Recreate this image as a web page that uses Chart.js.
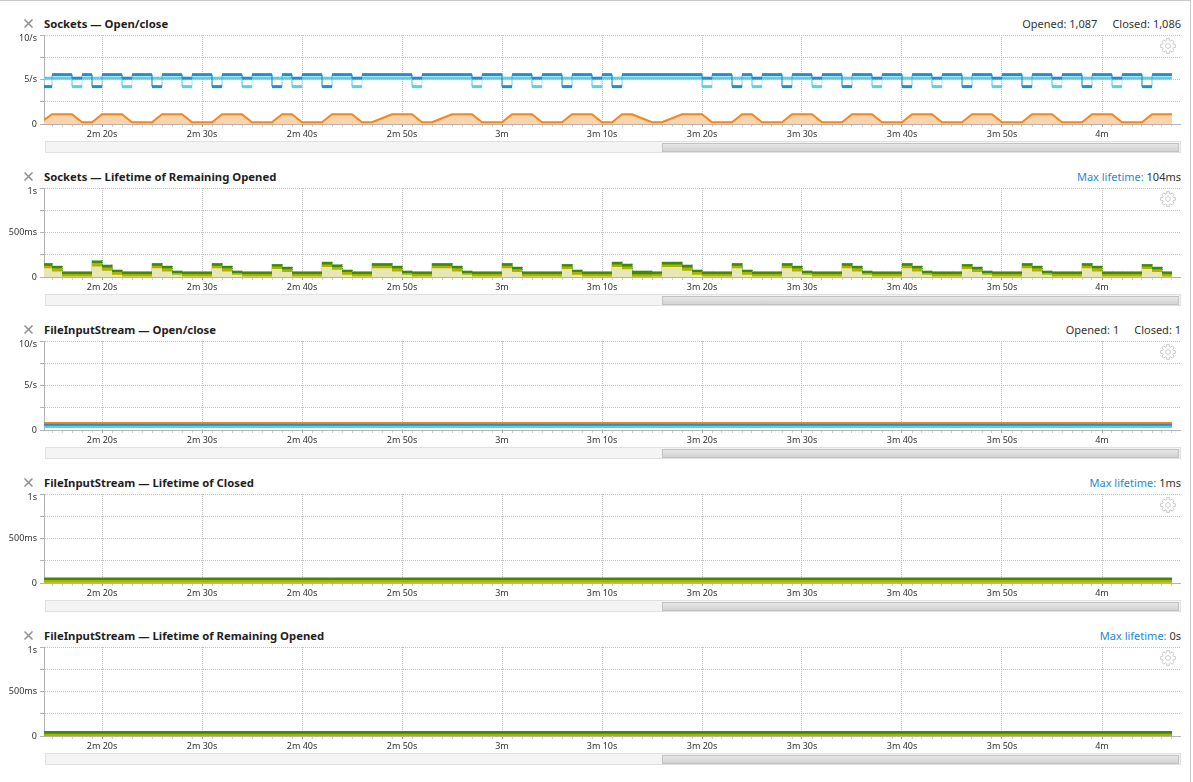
<!DOCTYPE html>
<html><head><meta charset="utf-8">
<script src="https://cdn.jsdelivr.net/npm/chart.js@4.4.0/dist/chart.umd.min.js"></script>
<style>
html,body{margin:0;padding:0;background:#fff;}
body{width:1193px;height:782px;position:relative;overflow:hidden;font-family:"Noto Sans",sans-serif;}
#frame{position:absolute;left:0;top:0;width:1191px;height:782px;border-top:1px solid #c9c9c9;border-right:1px solid #c9c9c9;box-sizing:border-box;}
.panel{position:absolute;left:0;width:1193px;height:153px;}
.close{position:absolute;left:24px;top:19px;width:9px;height:9px;}
.title{position:absolute;left:44px;top:16px;font-weight:bold;font-size:11.3px;color:#1e1e1e;white-space:nowrap;line-height:16px;}
.info{position:absolute;right:12px;top:16px;font-size:11px;color:#333;white-space:nowrap;line-height:16px;}
.info .lbl{color:#1f88d0;}
.info .gap{margin-left:15px;}
.gear{position:absolute;left:1159px;top:37px;width:18px;height:18px;}
canvas{position:absolute;left:0;top:26px;}
.track{position:absolute;left:45px;top:141px;width:1136px;height:12px;box-sizing:border-box;background:#f4f4f4;border:1px solid #e0e0e0;}
.thumb{position:absolute;left:662px;top:142.5px;width:517px;height:9.5px;box-sizing:border-box;background:linear-gradient(#e6e6e6,#d3d3d3);border:1px solid #c2c2c2;}
</style>
</head><body>
<div id="frame"></div>
<script>
// ---------- data ----------
const T0 = 134;                 // first sampled second (2m 14s)
const X_MIN = 134.2, X_MAX = 247.8;

// Sockets — Open/close : per-second rates (interval [t, t+1])
const socketsOpenedRate = [
 4.2,5.55,5.55,5.15,5.55,4.2,5.55,5.55,5.15,5.55,   // 134-143
 5.55,4.2,5.55,5.55,5.15,5.55,5.55,4.2,5.55,5.55,   // 144-153
 5.15,5.55,5.55,4.2,5.55,5.15,5.55,5.55,4.2,5.55,   // 154-163
 5.55,5.15,5.55,5.55,5.55,5.55,5.55,5.15,5.55,5.55, // 164-173
 5.55,5.55,5.55,5.15,5.55,5.55,4.2,5.55,5.55,5.15,  // 174-183
 5.55,5.55,4.2,5.55,5.55,5.15,5.55,4.2,5.55,5.55,   // 184-193
 5.55,5.55,5.55,5.55,5.55,5.55,5.15,5.55,5.55,4.2,  // 194-203
 5.55,5.15,5.55,5.55,4.2,5.55,5.55,5.15,5.55,5.55,  // 204-213
 4.2,5.55,5.55,5.15,5.55,5.55,4.2,5.55,5.55,5.15,   // 214-223
 5.55,5.55,4.2,5.55,5.55,5.15,5.55,5.55,4.2,5.55,   // 224-233
 5.55,5.15,5.55,5.55,4.2,5.55,5.55,5.15,5.55,5.55,  // 234-243
 4.2,5.55,5.55                                      // 244-246
];
const socketsClosedRate = [
 5.15,5.15,5.15,4.2,5.15,5.15,5.15,5.15,4.2,5.15,
 5.15,5.15,5.15,5.15,4.2,5.15,5.15,5.15,5.15,5.15,
 4.2,5.15,5.15,5.15,5.15,4.2,5.15,5.15,5.15,5.15,
 5.15,4.2,5.15,5.15,5.15,5.15,5.15,4.2,5.15,5.15,
 5.15,5.15,5.15,4.2,5.15,5.15,5.15,5.15,5.15,4.2,
 5.15,5.15,5.15,5.15,5.15,4.2,5.15,5.15,5.15,5.15,
 5.15,5.15,5.15,5.15,5.15,5.15,4.2,5.15,5.15,5.15,
 5.15,4.2,5.15,5.15,5.15,5.15,5.15,4.2,5.15,5.15,
 5.15,5.15,5.15,4.2,5.15,5.15,5.15,5.15,5.15,4.2,
 5.15,5.15,5.15,5.15,5.15,4.2,5.15,5.15,5.15,5.15,
 5.15,4.2,5.15,5.15,5.15,5.15,5.15,4.2,5.15,5.15,
 5.15,5.15,5.15
];
// remaining opened, sampled at whole seconds 134..247
const socketsRemaining = [
 0.3,1.1,1.1,1.1,0.2,0.2,1.1,1.1,1.1,0.2,
 0.2,0.2,1.1,1.1,1.1,0.2,0.2,0.2,1.1,1.1,
 1.1,0.2,0.2,0.2,1.1,1.1,0.2,0.2,0.2,1.1,
 1.1,1.1,0.2,0.2,0.65,1.1,1.1,1.1,0.2,0.2,
 0.65,1.1,1.1,1.1,0.2,0.2,0.2,1.1,1.1,1.1,
 0.2,0.2,0.2,1.1,1.1,1.1,0.2,0.2,1.1,1.1,
 0.65,0.2,0.2,0.65,1.1,1.1,1.1,0.2,0.2,0.2,
 1.1,1.1,0.2,0.2,0.2,1.1,1.1,1.1,0.2,0.2,
 0.2,1.1,1.1,1.1,0.2,0.2,0.2,1.1,1.1,1.1,
 0.2,0.2,0.2,1.1,1.1,1.1,0.2,0.2,0.2,1.1,
 1.1,1.1,0.2,0.2,0.2,1.1,1.1,1.1,0.2,0.2,
 0.2,1.1,1.1,1.1
];

// Sockets — Lifetime of Remaining Opened (ms), per-second steps
const socketsLifeTop = [
 156,126,63,63,63,186,138,82,63,63,
 63,156,126,71,63,63,63,156,126,71,
 63,63,63,145,115,63,63,63,171,141,
 82,63,63,156,156,126,71,63,63,156,
 156,126,71,63,63,63,156,115,63,63,
 63,63,145,82,63,63,63,171,149,71,
 71,63,171,171,138,82,63,63,63,156,
 82,63,63,63,156,126,71,63,63,63,
 156,126,71,63,63,63,156,126,71,63,
 63,63,145,115,71,63,63,63,156,126,
 71,63,63,63,156,126,63,63,63,63,
 145,115,63
];
const socketsLifeMid = [
 126,97,33,33,33,156,108,56,33,33,
 33,126,97,45,33,33,33,126,97,45,
 33,33,33,119,86,33,33,33,141,112,
 56,33,33,126,126,97,45,33,33,126,
 126,97,45,33,33,33,126,86,33,33,
 33,33,119,56,33,33,33,141,119,30,
 30,33,141,141,108,56,33,33,33,126,
 56,33,33,33,126,97,45,33,33,33,
 126,97,45,33,33,33,126,97,45,33,
 33,33,119,86,45,33,33,33,126,97,
 45,33,33,33,126,97,33,33,33,33,
 119,86,33
];
const socketsLifeLow = [
 97,63,7,7,7,119,71,26,7,7,
 7,97,63,26,7,7,7,97,63,26,
 7,7,7,89,56,7,7,7,112,82,
 26,7,7,97,97,63,26,7,7,97,
 97,63,26,7,7,7,97,56,7,7,
 7,7,89,26,7,7,7,112,86,4,
 4,7,112,112,71,26,7,7,7,97,
 26,7,7,7,97,63,26,7,7,7,
 97,63,26,7,7,7,97,63,26,7,
 7,7,89,56,26,7,7,7,97,63,
 26,7,7,7,97,63,7,7,7,7,
 89,56,7
];

// FileInputStream panels: flat series from first to last sample
const fisTimes = [134, 247];
const fisOpenedRate = [0.66, 0.66];
const fisClosedRate = [0.38, 0.38];
const fisRemaining = [0.8, 0.8];
const fisClosedLifeTop = [63, 63];
const fisClosedLifeMid = [33, 33];
const fisClosedLifeLow = [4, 4];
const fisOpenLifeTop = [56, 56];
const fisOpenLifeMid = [24, 24];
const fisOpenLifeLow = [0, 0];

const rateTickValues = [0, 5, 10];
const rateTickLabels = ['0', '5/s', '10/s'];
const lifeTickValues = [0, 500, 1000];
const lifeTickLabels = ['0', '500ms', '1s'];

const panelTitles = [
 'Sockets — Open/close',
 'Sockets — Lifetime of Remaining Opened',
 'FileInputStream — Open/close',
 'FileInputStream — Lifetime of Closed',
 'FileInputStream — Lifetime of Remaining Opened'
];
const panelInfo = [
 {type:'count', opened:'1,087', closed:'1,086'},
 {type:'life', value:'104ms'},
 {type:'count', opened:'1', closed:'1'},
 {type:'life', value:'1ms'},
 {type:'life', value:'0s'}
];

// ---------- colours ----------
const C_OPEN = '#1f8fd3', C_CLOSE = '#5ccfe6', C_REM = '#f4861c', C_REM_FILL = '#fbd4ae';
const C_GREEN = '#3a8b0c', C_OLIVE = '#b0b000', C_PALE = '#e7e7b5';
const FONT = 'Noto Sans';

// ---------- helpers ----------
function stepPts(values, t0) {
  const pts = [];
  values.forEach((v, i) => { pts.push({x: t0 + i, y: v}, {x: t0 + i + 1, y: v}); });
  return pts;
}
function linePts(times, values) { return values.map((v, i) => ({x: times[i], y: v})); }
function evenPts(values, t0) { return values.map((v, i) => ({x: t0 + i, y: v})); }
const isVert = c => c.p0.parsed.x === c.p1.parsed.x;
function fmtTime(v) {
  const m = Math.floor(v / 60), s = Math.round(v - m * 60);
  return s ? m + 'm ' + s + 's' : m + 'm';
}
function stepLine(data, color) {
  return { data, borderColor: color, borderWidth: 3, fill: false, borderCapStyle: 'butt',
    segment: { borderWidth: c => isVert(c) ? 1 : 3, borderDash: c => isVert(c) ? [1, 1] : undefined } };
}
function bandArea(data, color, dottedEdges) {
  const ds = { data, backgroundColor: color, borderColor: color, fill: 'origin', borderWidth: dottedEdges ? 1 : 0 };
  if (dottedEdges) ds.segment = { borderColor: c => isVert(c) ? color : 'rgba(0,0,0,0)', borderDash: c => isVert(c) ? [1, 1] : undefined };
  return ds;
}

function makeChart(canvas, datasets, yMax, yStep, tickVals, tickLabels) {
  const labelFor = v => { const i = tickVals.indexOf(v); if (i < 0) return ''; return v === yMax ? ['', tickLabels[i]] : tickLabels[i]; };
  return new Chart(canvas, {
    type: 'line',
    data: { datasets },
    options: {
      responsive: false, animation: false, events: [],
      layout: { padding: { top: 8, right: 5, left: 0, bottom: 0 } },
      elements: { point: { radius: 0 }, line: { tension: 0 } },
      plugins: { legend: { display: false }, tooltip: { enabled: false } },
      scales: {
        x: {
          type: 'linear', min: X_MIN, max: X_MAX,
          afterFit: s => { s.height = 16; },
          border: { display: true, color: '#b3b3b3', width: 1, dash: [1, 1] },
          grid: {
            color: c => (c.tick && c.tick.value % 10 === 0) ? '#c4c4c4' : 'rgba(0,0,0,0)',
            tickColor: c => (c.tick && c.tick.value % 10 === 0) ? '#a0a0a0' : '#d0d0d0',
            tickLength: 3
          },
          ticks: { stepSize: 1, autoSkip: false, maxRotation: 0, minRotation: 0, includeBounds: false,
            padding: 2, color: '#333', font: { family: FONT, size: 9 },
            callback: v => v % 10 === 0 ? fmtTime(v) : '' }
        },
        y: {
          min: 0, max: yMax,
          afterFit: s => { s.width = 44; },
          border: { display: true, color: '#b3b3b3', width: 1, dash: [1, 1] },
          grid: { color: '#c4c4c4', tickColor: '#b3b3b3', tickLength: 4 },
          ticks: { stepSize: yStep, padding: 3, color: '#333', font: { family: FONT, size: 9, lineHeight: 0.67 },
            callback: v => labelFor(v) }
        }
      }
    }
  });
}

function gearSvg() {
  const cx = 9, cy = 9, ro = 7.5, ri = 5.6, n = 8;
  let pts = [];
  for (let k = 0; k < n; k++) {
    const a = k * 2 * Math.PI / n, w = Math.PI / n * 0.45;
    [[a - 1.6 * w, ri], [a - w, ro], [a + w, ro], [a + 1.6 * w, ri]].forEach(([an, r]) => pts.push((cx + r * Math.cos(an)).toFixed(2) + ',' + (cy + r * Math.sin(an)).toFixed(2)));
  }
  return '<svg width="18" height="18" viewBox="0 0 18 18"><polygon points="' + pts.join(' ') + '" fill="#fff" stroke="#c9c9c9" stroke-width="1"/><circle cx="9" cy="9" r="2.4" fill="#fff" stroke="#c9c9c9" stroke-width="1"/></svg>';
}

// ---------- build panels ----------
const panelDatasets = [
  [
    { data: evenPts(socketsRemaining, T0), borderColor: C_REM, backgroundColor: C_REM_FILL, borderWidth: 2, fill: 'origin' },
    stepLine(stepPts(socketsOpenedRate, T0), C_OPEN),
    stepLine(stepPts(socketsClosedRate, T0), C_CLOSE)
  ],
  [
    bandArea(stepPts(socketsLifeLow, T0), C_PALE, false),
    bandArea(stepPts(socketsLifeMid, T0), C_OLIVE, false),
    bandArea(stepPts(socketsLifeTop, T0), C_GREEN, true)
  ],
  [
    { data: linePts(fisTimes, fisRemaining), borderColor: C_REM, borderWidth: 1.6, fill: false },
    { data: linePts(fisTimes, fisOpenedRate), borderColor: C_OPEN, borderWidth: 3, fill: false },
    { data: linePts(fisTimes, fisClosedRate), borderColor: C_CLOSE, borderWidth: 3, fill: false }
  ],
  [
    bandArea(linePts(fisTimes, fisClosedLifeLow), C_PALE, false),
    bandArea(linePts(fisTimes, fisClosedLifeMid), C_OLIVE, false),
    bandArea(linePts(fisTimes, fisClosedLifeTop), C_GREEN, false)
  ],
  [
    bandArea(linePts(fisTimes, fisOpenLifeLow), C_PALE, false),
    bandArea(linePts(fisTimes, fisOpenLifeMid), C_OLIVE, false),
    bandArea(linePts(fisTimes, fisOpenLifeTop), C_GREEN, false)
  ]
];
const isRate = [true, false, true, false, false];

panelTitles.forEach((title, i) => {
  const p = document.createElement('div');
  p.className = 'panel';
  p.style.top = (153 * i) + 'px';
  const info = panelInfo[i];
  const infoHtml = info.type === 'count'
    ? '<span>Opened: ' + info.opened + '</span><span class="gap">Closed: ' + info.closed + '</span>'
    : '<span class="lbl">Max lifetime:</span> <span>' + info.value + '</span>';
  p.innerHTML =
    '<svg class="close" viewBox="0 0 9 9"><path d="M0.5 0.5 L8.5 8.5 M8.5 0.5 L0.5 8.5" stroke="#8e8e8e" stroke-width="1.5"/></svg>' +
    '<div class="title"></div>' +
    '<div class="info">' + infoHtml + '</div>' +
    '<canvas width="1185" height="114"></canvas>' +
    '<div class="gear">' + gearSvg() + '</div>' +
    '<div class="track"></div><div class="thumb"></div>';
  p.querySelector('.title').textContent = title;
  document.body.appendChild(p);
  const cv = p.querySelector('canvas');
  if (isRate[i]) makeChart(cv, panelDatasets[i], 10, 2.5, rateTickValues, rateTickLabels);
  else makeChart(cv, panelDatasets[i], 1000, 250, lifeTickValues, lifeTickLabels);
});
</script>
</body></html>
